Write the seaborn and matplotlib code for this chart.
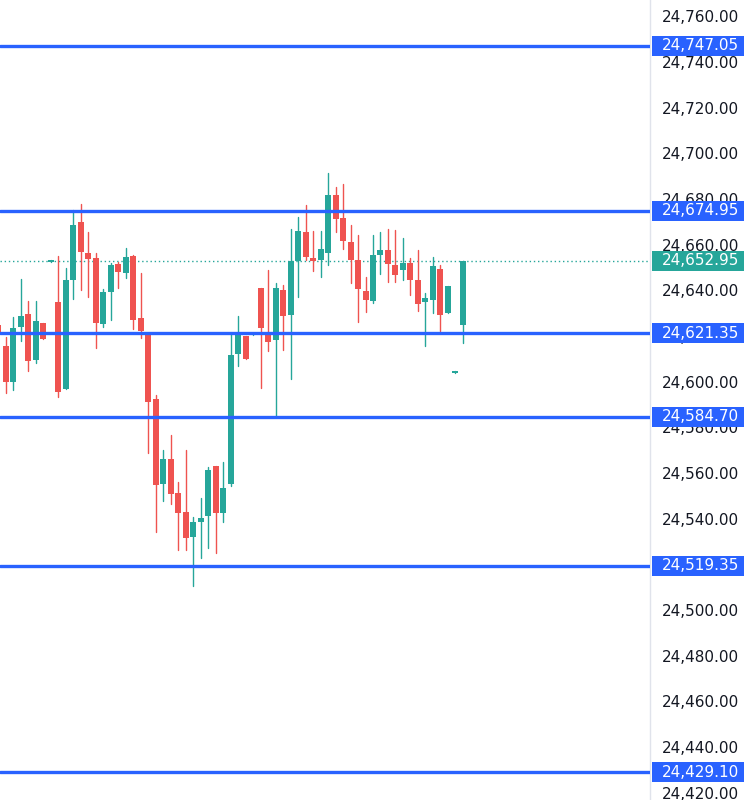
import numpy as np
import pandas as pd
import matplotlib
matplotlib.use('Agg')
import matplotlib.pyplot as plt
import matplotlib.transforms as mtransforms
from matplotlib.patches import Rectangle
import seaborn as sns

# candle data, one entry per bar
opens = [24625.0, 24615.7, 24599.9, 24624.0, 24629.7, 24609.5, 24625.7, 24652.5, 24634.9, 24596.8,
         24644.6, 24670.0, 24656.4, 24654.2, 24625.3, 24639.3, 24651.6, 24647.6, 24655.1, 24627.9,
         24620.9, 24592.5, 24555.2, 24566.2, 24551.3, 24543.0, 24532.0, 24538.6, 24541.2, 24563.1,
         24542.5, 24555.2, 24612.2, 24620.1, 24620.5, 24641.1, 24621.8, 24618.3, 24640.2, 24629.2,
         24652.9, 24665.6, 24654.2, 24653.3, 24656.4, 24681.8, 24671.7, 24661.2, 24653.3, 24639.8,
         24635.4, 24655.5, 24657.7, 24651.1, 24649.0, 24652.0, 24644.6, 24634.9, 24635.8, 24649.4,
         24630.1, 24604.0, 24624.9]
highs = [24627.1, 24619.6, 24628.4, 24645.0, 24635.4, 24635.4, 24625.7, 24653.5, 24655.1, 24649.8,
         24675.2, 24677.9, 24665.6, 24656.4, 24640.6, 24652.0, 24652.5, 24658.6, 24655.5, 24647.6,
         24620.9, 24594.2, 24570.1, 24576.7, 24556.1, 24570.1, 24540.8, 24549.1, 24562.7, 24563.1,
         24564.9, 24621.4, 24628.8, 24620.1, 24621.0, 24641.1, 24649.0, 24643.3, 24642.4, 24666.9,
         24672.2, 24677.4, 24666.0, 24666.0, 24691.4, 24685.3, 24686.6, 24668.7, 24664.3, 24645.9,
         24664.3, 24665.6, 24666.9, 24666.5, 24663.0, 24654.2, 24657.7, 24638.9, 24654.7, 24651.1,
         24642.0, 24604.6, 24652.95]
lows = [24619.2, 24595.1, 24596.4, 24617.9, 24604.7, 24608.2, 24618.7, 24652.5, 24593.3, 24596.8,
        24636.3, 24640.2, 24637.1, 24614.8, 24624.0, 24627.1, 24641.1, 24645.5, 24623.1, 24619.2,
        24568.8, 24534.2, 24547.8, 24546.5, 24526.3, 24526.3, 24510.6, 24522.8, 24527.2, 24525.0,
        24538.6, 24554.4, 24606.9, 24610.0, 24620.5, 24597.3, 24613.5, 24584.6, 24613.9, 24601.2,
        24637.1, 24653.3, 24648.5, 24645.9, 24651.1, 24665.6, 24658.2, 24643.3, 24626.2, 24630.6,
        24634.5, 24647.2, 24643.7, 24643.7, 24644.6, 24638.0, 24631.0, 24615.7, 24630.1, 24622.2,
        24630.1, 24604.0, 24617.0]
closes = [24620.5, 24599.9, 24623.6, 24628.8, 24609.1, 24626.6, 24618.7, 24653.5, 24595.5, 24644.6,
          24668.7, 24656.8, 24653.8, 24625.7, 24639.3, 24651.1, 24648.1, 24654.7, 24627.1, 24622.2,
          24591.2, 24554.8, 24566.2, 24550.9, 24542.5, 24531.6, 24538.6, 24540.3, 24561.4, 24542.5,
          24553.5, 24611.7, 24620.5, 24610.0, 24621.0, 24623.6, 24617.4, 24641.1, 24628.8, 24652.9,
          24666.0, 24654.7, 24652.9, 24658.2, 24681.8, 24671.3, 24661.7, 24653.3, 24640.6, 24635.8,
          24655.5, 24657.7, 24651.6, 24646.8, 24652.0, 24644.6, 24634.1, 24636.7, 24650.7, 24629.2,
          24642.0, 24604.6, 24652.95]

levels = [24747.05, 24674.95, 24621.35, 24584.70, 24519.35, 24429.10]
last_price = 24652.95
yticks = list(range(24420, 24761, 20))

UP = '#26a69a'
DOWN = '#ef5350'
BLUE = '#2962ff'

sns.set_theme(style="white")
plt.rcParams['font.family'] = ['DejaVu Sans']

idx = np.arange(len(opens))
o = np.array(opens); h = np.array(highs); l = np.array(lows); c = np.array(closes)
dirs = np.where(c >= o, 'up', 'down')

fig = plt.figure(figsize=(7.49, 8), dpi=100)
ax = fig.add_axes([0, 0, 650/749, 1])

# wicks
wick = pd.DataFrame({'idx': np.repeat(idx, 2),
                     'price': np.column_stack([h, l]).ravel(),
                     'dir': np.repeat(dirs, 2)})
sns.lineplot(data=wick, x='idx', y='price', hue='dir', units='idx', estimator=None,
             palette={'up': UP, 'down': DOWN}, linewidth=1.0, legend=False, ax=ax, zorder=2)

# bodies
bottoms = np.minimum(o, c)
heights = np.maximum(np.abs(c - o), 0.7)
ax.bar(idx, heights, bottom=bottoms, width=0.8, linewidth=0,
       color=[UP if d == 'up' else DOWN for d in dirs], zorder=3)

# last price dotted line
ax.axhline(last_price, color=UP, lw=1, ls=(0, (1, 2)), zorder=1)

# horizontal levels
for v in levels:
    ax.axhline(v, color=BLUE, lw=2.4, zorder=4)

ax.set_xlim(0.2, 0.2 + 650/7.49)
ax.set_ylim(24416.84, 24767.19)
ax.set_xlabel('')
ax.set_ylabel('')
ax.set_xticks([])
ax.yaxis.tick_right()
ax.set_yticks(yticks)
ax.set_yticklabels([f"{t:,.2f}" for t in yticks])
ax.tick_params(axis='y', length=0, pad=8.6, labelsize=11, labelcolor='#131722')
for s in ['top', 'left', 'bottom']:
    ax.spines[s].set_visible(False)
ax.spines['right'].set_color('#e0e3eb')
ax.spines['right'].set_linewidth(1)

# price labels on the scale
trans = mtransforms.blended_transform_factory(ax.transAxes, ax.transData)
box_h = 20 / 2.2834
for v, col in [(x, BLUE) for x in levels] + [(last_price, UP)]:
    ax.add_patch(Rectangle((1 + 2/650, v - box_h/2), 92/650, box_h, transform=trans,
                           facecolor=col, edgecolor='none', clip_on=False, zorder=6))
    ax.text(1 + 12/650, v, f"{v:,.2f}", transform=trans, color='white', fontsize=11,
            va='center', ha='left', clip_on=False, zorder=7)

fig.savefig('out.png', dpi=100)
